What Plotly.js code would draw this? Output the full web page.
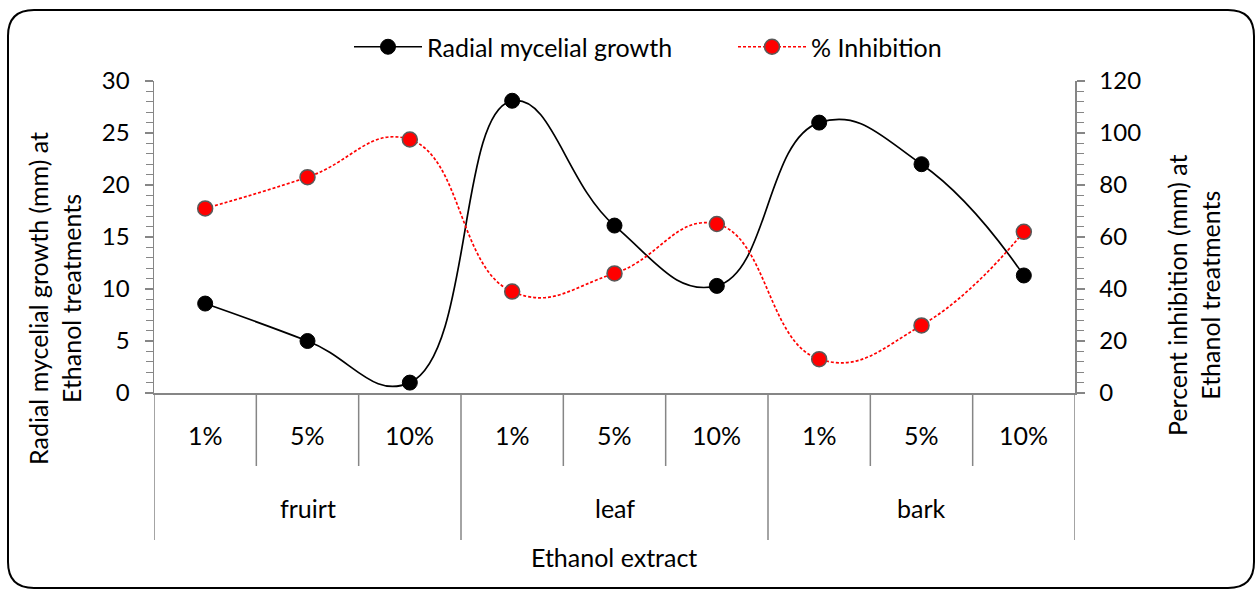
<!DOCTYPE html>
<html><head><meta charset="utf-8">
<script src="https://cdn.plot.ly/plotly-3.0.1.min.js"></script>
<style>html,body{margin:0;padding:0;background:#fff}#chart{width:1257px;height:591px}</style>
</head><body><div id="chart"></div>
<script>
// ---- data ----
const groups = ['fruirt', 'leaf', 'bark'];
const levels = ['1%', '5%', '10%'];
const growth = [8.6, 5.0, 1.0, 28.1, 16.1, 10.3, 26.0, 22.0, 11.3];
const inhibition = [71.0, 83.0, 97.5, 39.0, 46.0, 65.0, 13.0, 26.0, 62.0];
const seriesNames = ['Radial mycelial growth', '% Inhibition'];
const xTitle = 'Ethanol extract';
const y1Title = 'Radial mycelial growth (mm) at<br>Ethanol treatments';
const y2Title = 'Percent inhibition (mm) at<br>Ethanol treatments';

// ---- geometry ----
const W = 1257, H = 591;
const L = 154, R = 1075, T = 81, B = 393;
const pw = R - L, ph = B - T;
const px2x = p => (p - L) / pw;
const py2y = p => (B - p) / ph;
const GREY = '#868686';
const FONT = 'Lato, "Open Sans", sans-serif';
const FS = 25;

const cats = [];
const catLevel = [];
groups.forEach(g => levels.forEach(l => { cats.push(g + ' ' + l); catLevel.push(l); }));
const nPer = levels.length;

const traces = [
  {
    x: cats, y: growth, name: seriesNames[0], type: 'scatter', mode: 'lines+markers',
    line: {color: '#000', width: 1.7, shape: 'spline', smoothing: 1.3},
    marker: {symbol: 'circle', size: 15, color: '#000', line: {color: '#000', width: 1}},
    yaxis: 'y', cliponaxis: true
  },
  {
    x: cats, y: inhibition, name: seriesNames[1], type: 'scatter', mode: 'lines+markers',
    line: {color: '#ff0000', width: 1.7, dash: '3px,2px', shape: 'spline', smoothing: 1.3},
    marker: {symbol: 'circle', size: 15, color: '#ff0000', line: {color: '#595959', width: 1.5}},
    yaxis: 'y2', cliponaxis: true
  }
];

const shapes = [];
const annotations = [];

// dividers below the x axis
for (let i = 0; i <= cats.length; i++) {
  const isGroup = (i % nPer === 0);
  shapes.push({
    type: 'line', xref: 'x', yref: 'paper',
    x0: i - 0.5, x1: i - 0.5, y0: 0, y1: py2y(isGroup ? 540 : 466),
    line: {color: GREY, width: 1.5}
  });
}
// inner level labels
cats.forEach((c, i) => {
  annotations.push({
    xref: 'x', yref: 'paper', x: i, y: py2y(435), text: catLevel[i],
    showarrow: false, xanchor: 'center', yanchor: 'middle',
    font: {family: FONT, size: FS, color: '#000'}
  });
});
// group labels
groups.forEach((g, gi) => {
  annotations.push({
    xref: 'x', yref: 'paper', x: gi * nPer + (nPer - 1) / 2, y: py2y(508), text: g,
    showarrow: false, xanchor: 'center', yanchor: 'middle',
    font: {family: FONT, size: FS, color: '#000'}
  });
});
// axis titles
annotations.push({
  xref: 'paper', yref: 'paper', x: px2x(614), y: py2y(557), text: xTitle,
  showarrow: false, xanchor: 'center', yanchor: 'middle',
  font: {family: FONT, size: FS, color: '#000'}
});
annotations.push({
  xref: 'paper', yref: 'paper', x: px2x(54), y: py2y(299), text: y1Title, textangle: -90,
  showarrow: false, xanchor: 'center', yanchor: 'middle',
  font: {family: FONT, size: FS, color: '#000'}
});
annotations.push({
  xref: 'paper', yref: 'paper', x: px2x(1193), y: py2y(295), text: y2Title, textangle: -90,
  showarrow: false, xanchor: 'center', yanchor: 'middle',
  font: {family: FONT, size: FS, color: '#000'}
});

// rounded outer border
(function () {
  const x0 = 8, y0 = 10, x1 = 1254, y1 = 588, r = 26;
  const P = (x, y) => px2x(x).toFixed(5) + ',' + py2y(y).toFixed(5);
  const path = 'M' + P(x0 + r, y0) + ' L' + P(x1 - r, y0) + ' Q' + P(x1, y0) + ' ' + P(x1, y0 + r) +
    ' L' + P(x1, y1 - r) + ' Q' + P(x1, y1) + ' ' + P(x1 - r, y1) +
    ' L' + P(x0 + r, y1) + ' Q' + P(x0, y1) + ' ' + P(x0, y1 - r) +
    ' L' + P(x0, y0 + r) + ' Q' + P(x0, y0) + ' ' + P(x0 + r, y0) + ' Z';
  shapes.push({type: 'path', xref: 'paper', yref: 'paper', path: path,
    line: {color: '#000', width: 2}, fillcolor: 'rgba(0,0,0,0)', layer: 'above'});
})();

const yCommon = {
  ticks: 'outside', ticklen: 8, tickcolor: GREY, tickwidth: 1.5,
  showline: true, linecolor: GREY, linewidth: 1.5,
  showgrid: false, zeroline: false, fixedrange: true,
  tickfont: {family: FONT, size: 24, color: '#000'},
  ticklabelstandoff: 10
};

const layout = {
  width: W, height: H,
  margin: {l: L, r: W - R, t: T, b: H - B, pad: 0},
  paper_bgcolor: '#fff', plot_bgcolor: '#fff',
  font: {family: FONT, size: FS, color: '#000'},
  showlegend: true,
  legend: {
    orientation: 'h', x: px2x(349), xanchor: 'left', y: py2y(47), yanchor: 'middle',
    font: {family: FONT, size: FS, color: '#000'}, bgcolor: 'rgba(0,0,0,0)',
    entrywidth: 301, entrywidthmode: 'pixels', itemwidth: 68
  },
  xaxis: {
    type: 'category', range: [-0.5, cats.length - 0.5], showticklabels: false, ticks: '',
    showline: true, linecolor: GREY, linewidth: 1.5, showgrid: false, zeroline: false, fixedrange: true
  },
  yaxis: Object.assign({}, yCommon, {
    range: [0, 30], tick0: 0, dtick: 5,
    minor: {dtick: 1, ticks: 'outside', ticklen: 7, tickcolor: GREY, tickwidth: 1.2, showgrid: false}
  }),
  yaxis2: Object.assign({}, yCommon, {
    overlaying: 'y', side: 'right', range: [0, 120], tick0: 0, dtick: 20,
    minor: {dtick: 4, ticks: 'outside', ticklen: 7, tickcolor: GREY, tickwidth: 1.2, showgrid: false}
  }),
  shapes: shapes,
  annotations: annotations
};

Plotly.newPlot('chart', traces, layout, {displayModeBar: false, staticPlot: true});
</script>
</body></html>
